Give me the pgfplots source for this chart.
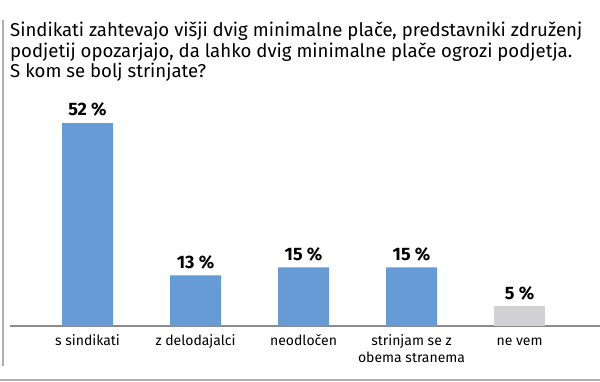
\documentclass[border=0pt]{standalone}
\usepackage{pgfplots}
\pgfplotsset{compat=1.18}
\usepackage{fontspec}
\setmainfont{Fira Sans}
\definecolor{barblue}{RGB}{103,155,213}
\definecolor{bargrey}{RGB}{210,210,212}
\definecolor{linegrey}{RGB}{140,140,140}
\begin{document}
\begin{tikzpicture}[x=1bp,y=1bp]
\path[use as bounding box] (0,0) rectangle (600,381);
\draw[linegrey!70, line width=1.2bp] (3,361) -- (3,15);
\draw[linegrey!70, line width=1.2bp] (0,1) -- (600,1);
\node[anchor=base west, inner sep=0pt, font=\fontsize{18.6bp}{20bp}\selectfont] at (10,345) {Sindikati zahtevajo višji dvig minimalne plače, predstavniki združenj};
\node[anchor=base west, inner sep=0pt, font=\fontsize{18.6bp}{20bp}\selectfont] at (10,324) {podjetij opozarjajo, da lahko dvig minimalne plače ogrozi podjetja.};
\node[anchor=base west, inner sep=0pt, font=\fontsize{18.6bp}{20bp}\selectfont] at (10,304) {S kom se bolj strinjate?};
\begin{axis}[
  at={(10bp,55bp)}, anchor=south west,
  scale only axis, width=590bp, height=234.2bp,
  xmin=-0.7176, xmax=4.745, ymin=0, ymax=60,
  axis x line*=bottom, hide y axis,
  x axis line style={-, draw=linegrey, line width=1.2bp},
  xtick={0,1,2,3,4},
  xticklabels={s sindikati, z delodajalci, neodločen, {strinjam se z\\[1.5bp]obema stranema}, ne vem},
  typeset ticklabels with strut,
  xticklabel style={align=center, anchor=north, font=\fontsize{14bp}{15.5bp}\selectfont, yshift=-5bp},
  major tick length=0pt,
  ybar, bar width=51bp, bar shift=0pt,
  nodes near coords={\textbf{\pgfmathprintnumber[assume math mode=true]{\pgfplotspointmeta}~\%}},
  every node near coord/.append style={font=\fontsize{18bp}{20bp}\selectfont, yshift=3bp},
  clip=false,
]
\addplot[fill=barblue, draw=none] coordinates {(0,52) (1,13) (2,15) (3,15)};
\addplot[fill=bargrey, draw=none] coordinates {(4,5)};
\end{axis}
\end{tikzpicture}
\end{document}
